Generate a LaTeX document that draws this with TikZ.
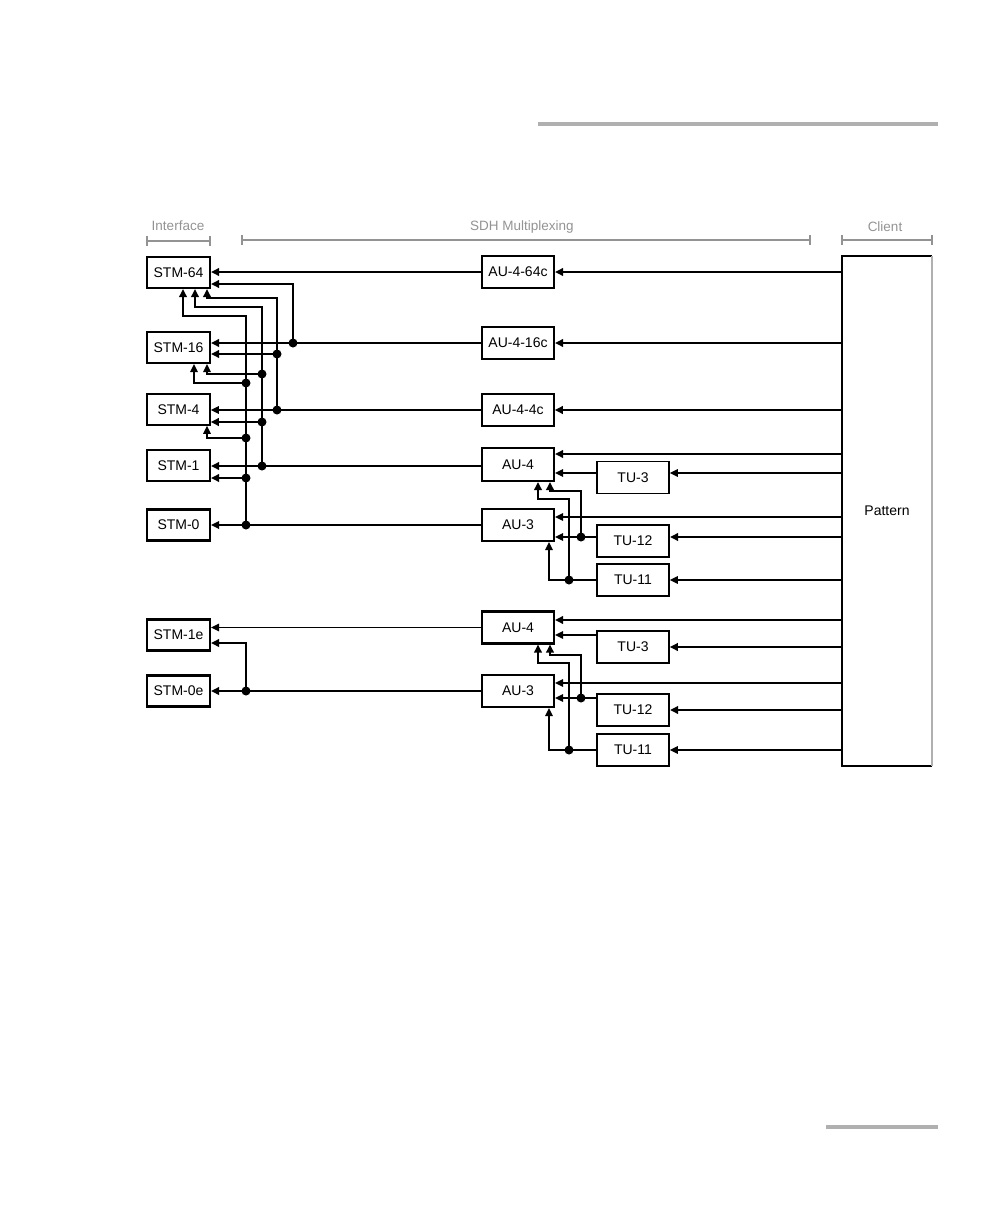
\documentclass[tikz,border=0pt]{standalone}
\usepackage{fontspec}
\setmainfont{Liberation Sans}
\usetikzlibrary{arrows.meta}
\definecolor{lbl}{HTML}{939393}
\definecolor{bar}{HTML}{B0B0B0}
\begin{document}
\begin{tikzpicture}[x=1pt,y=-1pt,
  box/.style={draw,line width=2.1pt,inner sep=0pt,minimum height=31pt,font=\fontsize{14}{16}\selectfont},
  stmbox/.style={box,minimum width=63pt},
  aubox/.style={box,minimum width=72pt,minimum height=32pt},
  thk/.style={line width=2.3pt},
  thn/.style={line width=1.5pt},
  arr/.style={-{Triangle[length=8pt,width=7.5pt]}},
  dot/.style={circle,fill,inner sep=0pt,minimum size=9pt},
  brk/.style={draw=lbl,line width=1.2pt},
  hdr/.style={text=lbl,font=\fontsize{13.5}{15}\selectfont}]
\useasboundingbox (0,0) rectangle (1008,1224);
% gray page bars
\fill[bar] (538,122) rectangle (938,126);
\fill[bar] (826,1125) rectangle (938,1129);
% headers
\node[hdr] (hint) at (178,226) {Interface};
\node[hdr] (hsdh) at (522,227) {SDH Multiplexing};
\node[hdr] (hcli) at (885,227) {Client};
\draw[brk] (147,236) -- (147,246) (147,241) -- (210,241) (210,236) -- (210,246);
\draw[brk] (242,235) -- (242,245) (242,240) -- (810,240) (810,235) -- (810,245);
\draw[brk] (842,235) -- (842,245) (842,240) -- (932,240) (932,235) -- (932,245);
% STM boxes
\node[stmbox] (stm64) at (178.5,272.5) {STM-64};
\node[stmbox] (stm16) at (178.5,347.5) {STM-16};
\node[stmbox,line width=1.6pt] (stm4) at (178.5,409.5) {STM-4};
\node[stmbox] (stm1) at (178.5,465.5) {STM-1};
\node[stmbox] (stm0) at (178.5,525) {STM-0};
\node[stmbox] (stm1e) at (178.5,635) {STM-1e};
\node[stmbox] (stm0e) at (178.5,691) {STM-0e};
% AU boxes
\node[aubox] (au64) at (518,272) {AU-4-64c};
\node[aubox] (au16) at (518,343) {AU-4-16c};
\node[aubox,line width=1.6pt] (au44) at (518,410) {AU-4-4c};
\node[aubox,minimum height=33pt] (au4) at (518,464.5) {AU-4};
\node[aubox] (au3) at (518,525) {AU-3};
\node[aubox] (au4b) at (518,627.5) {AU-4};
\node[aubox] (au3b) at (518,691) {AU-3};
% TU boxes
\node[aubox,line width=1.6pt] (tu3) at (633,477.5) {TU-3};
\node[aubox] (tu12) at (633,541) {TU-12};
\node[aubox,line width=1.6pt] (tu11) at (633,580) {TU-11};
\node[aubox,line width=1.6pt] (tu3b) at (633,647) {TU-3};
\node[aubox] (tu12b) at (633,710) {TU-12};
\node[aubox,line width=1.6pt] (tu11b) at (633,750) {TU-11};
% Pattern
\node[minimum width=90pt,minimum height=510pt,inner sep=0pt,font=\fontsize{14}{16}\selectfont] (pattern) at (887,511) {Pattern};
\draw[line width=1.8pt] (pattern.north east) -- (pattern.north west) -- (pattern.south west) -- (pattern.south east);
\draw[bar,line width=1.5pt] (pattern.north east) -- (pattern.south east);
% junction coordinates
\coordinate (d1) at (293,343);
\coordinate (d2) at (277,354);
\coordinate (d3) at (277,410);
\coordinate (d4) at (262,374);
\coordinate (d5) at (262,422);
\coordinate (d6) at (262,466);
\coordinate (d7) at (246,383);
\coordinate (d8) at (246,438);
\coordinate (d9) at (246,478);
\coordinate (d10) at (246,525);
\coordinate (d11) at (246,691);
\coordinate (e1) at (581,537);
\coordinate (e2) at (569,580);
\coordinate (e3) at (581,698);
\coordinate (e4) at (569,750);
% left side connectors
\draw[thk,arr] (au64.west) -- (stm64.east |- au64.west);
\draw[thk,arr] (au16.west) -- (stm16.east |- au16.west);
\draw[thk,arr] (d1) -- (293,284) -- (stm64.east |- 0,284);
\draw[thn,arr] (au44.west) -- (stm4.east |- au44.west);
\draw[thk,arr] (d3) -- (277,298) -- (207,298) -- (stm64.south -| 207,0);
\draw[thk,arr] (d2) -- (stm16.east |- d2);
\draw[thk,arr] (d6) -- (262,307) -- (195,307) -- (stm64.south -| 195,0);
\draw[thn,arr] (d4) -- (207,374) -- (stm16.south -| 207,0);
\draw[thk,arr] (d5) -- (stm4.east |- d5);
\draw[thk,arr] (d10) -- (246,316) -- (183,316) -- (stm64.south -| 183,0);
\draw[thn,arr] (d7) -- (194,383) -- (stm16.south -| 194,0);
\draw[thn,arr] (d8) -- (207,438) -- (stm4.south -| 207,0);
\draw[thk,arr] (d9) -- (stm1.east |- d9);
\draw[thk,arr] (au4.west |- d6) -- (stm1.east |- d6);
\draw[line width=1.8pt,arr] (au3.west) -- (stm0.east |- au3.west);
\draw[thn,arr] (au4b.west) -- (stm1e.east |- au4b.west);
\draw[thk,arr] (au3b.west) -- (stm0e.east |- au3b.west);
\draw[thk,arr] (d11) -- (246,643) -- (stm1e.east |- 0,643);
% right side connectors (upper)
\draw[thk,arr] (pattern.west |- au64.east) -- (au64.east);
\draw[thk,arr] (pattern.west |- au16.east) -- (au16.east);
\draw[thk,arr] (pattern.west |- au44.east) -- (au44.east);
\draw[thk,arr] (pattern.west |- 0,454) -- (au4.east |- 0,454);
\draw[thn,arr] (pattern.west |- 0,473) -- (tu3.east |- 0,473);
\draw[thn,arr] (tu3.west |- 0,473) -- (au4.east |- 0,473);
\draw[thn,arr] (pattern.west |- 0,517) -- (au3.east |- 0,517);
\draw[thk,arr] (pattern.west |- e1) -- (tu12.east |- e1);
\draw[thn,arr] (tu12.west |- e1) -- (au3.east |- e1);
\draw[thn,arr] (pattern.west |- tu11.east) -- (tu11.east);
\draw[thn,arr] (tu11.west) -- (e2) -- (549,580) -- (au3.south -| 549,0);
\draw[thk,arr] (e2) -- (569,499) -- (538,499) -- (au4.south -| 538,0);
\draw[thk,arr] (e1) -- (581,491) -- (550,491) -- (au4.south -| 550,0);
% right side connectors (lower)
\draw[thk,arr] (pattern.west |- 0,620) -- (au4b.east |- 0,620);
\draw[thk,arr] (pattern.west |- tu3b.east) -- (tu3b.east);
\draw[thn,arr] (tu3b.west |- 0,635) -- (au4b.east |- 0,635);
\draw[thn,arr] (pattern.west |- 0,683) -- (au3b.east |- 0,683);
\draw[thk,arr] (pattern.west |- tu12b.east) -- (tu12b.east);
\draw[thn,arr] (tu12b.west |- e3) -- (au3b.east |- e3);
\draw[thn,arr] (pattern.west |- tu11b.east) -- (tu11b.east);
\draw[thn,arr] (tu11b.west) -- (e4) -- (549,750) -- (au3b.south -| 549,0);
\draw[thk,arr] (e4) -- (569,663) -- (538,663) -- (au4b.south -| 538,0);
\draw[thk,arr] (e3) -- (581,655) -- (550,655) -- (au4b.south -| 550,0);
% dots
\foreach \p in {d1,d2,d3,d4,d5,d6,d7,d8,d9,d10,d11,e1,e2,e3,e4}
  \node[dot] at (\p) {};
\end{tikzpicture}
\end{document}
